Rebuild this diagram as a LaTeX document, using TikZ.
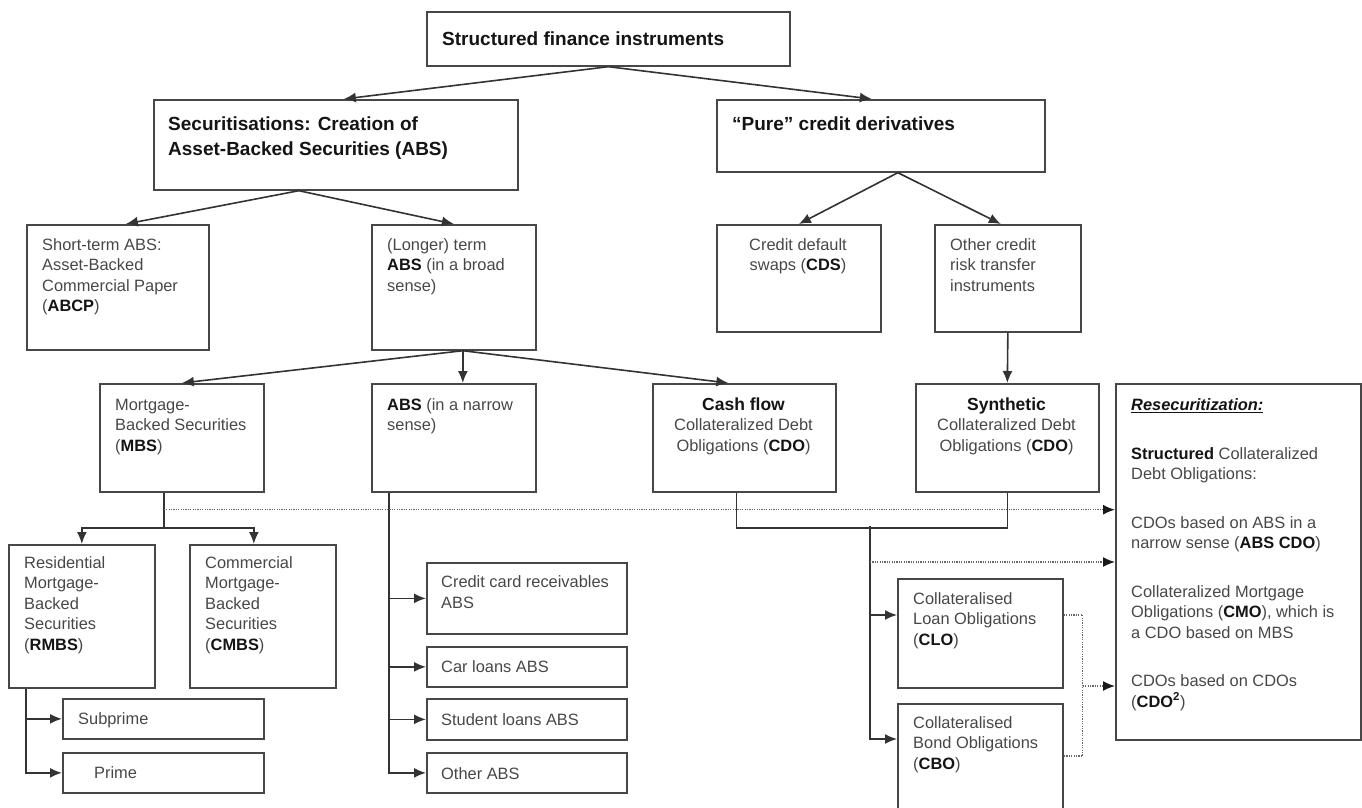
\documentclass[tikz,border=0pt]{standalone}
\usepackage{fontspec}
\setmainfont{Liberation Sans}
\usepackage{tikz}
\usetikzlibrary{arrows.meta, positioning, calc}

\newcommand{\bterm}[1]{{\bfseries\color{black!92}#1}}
\newcommand{\subhead}[1]{{\bfseries\fontsize{17.5}{20.5}\selectfont\color{black!92}#1}}

\begin{document}
\begin{tikzpicture}[x=1pt, y=-1pt,
    box/.style={draw=black!72, line width=1.7pt, anchor=north west, inner sep=0pt},
    dim/.style 2 args={minimum width=#1pt, minimum height=#2pt},
    txt/.style={anchor=base west, align=left, inner sep=0pt, text=black!72, font=\fontsize{16.4}{20.5}\selectfont},
    ctxt/.style={txt, anchor=base, align=center},
    head/.style={txt, text=black!92, font=\bfseries\fontsize{19}{25}\selectfont},
    arrow/.style={-{Latex[length=12pt, width=10pt]}, line width=1.6pt, draw=black!80},
    link/.style={line width=1.6pt, draw=black!80},
    dots/.style={dash pattern=on 1.2pt off 1.2pt, line width=1.5pt, draw=black!60},
    dotarrow/.style={dots, -{Latex[length=12pt, width=10pt, color=black!90]}}
]
    \useasboundingbox (0,0) rectangle (1362,808);

    % Level 1 and 2 (text nodes sit on the baseline of their last line)
    \node[box, dim={363}{54}] (sfi) at (426,11) {};
    \node[head] (sfi-t) at (442,46) {Structured finance instruments};

    \node[box, dim={364}{90}] (sec) at (153,99) {};
    \node[head] (sec-t) at (168,155) {Securitisations: Creation of\\Asset-Backed Securities (ABS)};

    \node[box, dim={328}{72}] (pure) at (716,99) {};
    \node[head] (pure-t) at (732,130) {“Pure” credit derivatives};

    % Level 3
    \node[box, dim={182}{125}] (abcp) at (26,224) {};
    \node[txt] (abcp-t) at (42,311.5) {Short-term ABS:\\Asset-Backed\\Commercial Paper\\(\bterm{ABCP})};

    \node[box, dim={164}{125}] (absbroad) at (371,224) {};
    \node[txt] (absbroad-t) at (387,291) {(Longer) term\\\bterm{ABS} (in a broad\\sense)};

    \node[box, dim={164}{107}] (cds) at (716,224) {};
    \node[ctxt] (cds-t) at (798,270.5) {Credit default\\swaps (\bterm{CDS})};

    \node[box, dim={146}{107}] (othercrt) at (934,224) {};
    \node[txt] (othercrt-t) at (950,291) {Other credit\\risk transfer\\instruments};

    % Level 4
    \node[box, dim={164}{108}] (mbs) at (99,383) {};
    \node[txt] (mbs-t) at (115,451) {Mortgage-\\Backed Securities\\(\bterm{MBS})};

    \node[box, dim={164}{108}] (absnarrow) at (371,383) {};
    \node[txt] (absnarrow-t) at (387,430.5) {\bterm{ABS} (in a narrow\\sense)};

    \node[box, dim={183}{108}] (cashcdo) at (652,383) {};
    \node[ctxt] (cashcdo-t) at (743.5,451) {\subhead{Cash flow}\\Collateralized Debt\\Obligations (\bterm{CDO})};

    \node[box, dim={183}{108}] (syncdo) at (915,383) {};
    \node[ctxt] (syncdo-t) at (1006.5,451) {\subhead{Synthetic}\\Collateralized Debt\\Obligations (\bterm{CDO})};

    \node[box, dim={245}{356}] (resec) at (1115,383) {};
    \node[txt] (resec-t) at (1131,707) {\bterm{\itshape\underline{Resecuritization:}}\\[28pt]
        \bterm{Structured} Collateralized\\Debt Obligations:\\[28pt]
        CDOs based on ABS in a\\narrow sense (\bterm{ABS CDO})\\[28pt]
        Collateralized Mortgage\\Obligations (\bterm{CMO}), which is\\a CDO based on MBS\\[28pt]
        CDOs based on CDOs\\(\bterm{CDO\textsuperscript{2}})};

    % Level 5
    \node[box, dim={146}{143}] (rmbs) at (8,544) {};
    \node[txt] (rmbs-t) at (24,650) {Residential\\Mortgage-\\Backed\\Securities\\(\bterm{RMBS})};

    \node[box, dim={146}{143}] (cmbs) at (189,544) {};
    \node[txt] (cmbs-t) at (205,650) {Commercial\\Mortgage-\\Backed\\Securities\\(\bterm{CMBS})};

    \node[box, dim={201}{40}] (subprime) at (62,698) {};
    \node[txt] (subprime-t) at (78,724) {Subprime};
    \node[box, dim={201}{40}] (prime) at (62,752) {};
    \node[txt] (prime-t) at (94,778) {Prime};

    \node[box, dim={200}{71}] (ccabs) at (426,562) {};
    \node[txt] (ccabs-t) at (441,608) {Credit card receivables\\ABS};
    \node[box, dim={200}{40}] (carabs) at (426,646) {};
    \node[txt] (carabs-t) at (441,672) {Car loans ABS};
    \node[box, dim={200}{41}] (studabs) at (426,698) {};
    \node[txt] (studabs-t) at (441,725) {Student loans ABS};
    \node[box, dim={200}{40}] (othabs) at (426,752) {};
    \node[txt] (othabs-t) at (441,779) {Other ABS};

    \node[box, dim={165}{109}] (clo) at (897,578) {};
    \node[txt] (clo-t) at (913,645) {Collateralised\\Loan Obligations\\(\bterm{CLO})};
    \node[box, dim={165}{112}] (cbo) at (897,703) {};
    \node[txt] (cbo-t) at (913,769) {Collateralised\\Bond Obligations\\(\bterm{CBO})};

    % Arrows
    \draw[arrow] (sfi.south) -- ([xshift=8]sec.north);
    \draw[arrow] (sfi.south) -- ([xshift=-9]pure.north);
    \draw[arrow] ([xshift=-37]sec.south) -- ([xshift=8]abcp.north);
    \draw[arrow] ([xshift=-37]sec.south) -- (absbroad.north);
    \draw[arrow] ([xshift=17]pure.south) -- (cds.north);
    \draw[arrow] ([xshift=17]pure.south) -- ([xshift=-7]othercrt.north);
    \draw[arrow] ([xshift=9]absbroad.south) -- (mbs.north);
    \draw[arrow] ([xshift=9]absbroad.south) -- ([xshift=9]absnarrow.north);
    \draw[arrow] ([xshift=9]absbroad.south) -- ([xshift=-16]cashcdo.north);
    \draw[arrow] (othercrt.south) -- (syncdo.north);

    % MBS branch
    \draw[link] ([xshift=-18]mbs.south) -- ++(0,35) coordinate (mbsfork);
    \draw[arrow] (mbsfork) -| (rmbs.north);
    \draw[arrow] (mbsfork) -| ([xshift=-9]cmbs.north);
    \draw[arrow] ([xshift=18]rmbs.south west) |- (subprime.west);
    \draw[arrow] ([xshift=18]rmbs.south west) |- (prime.west);

    % ABS branch
    \foreach \k in {ccabs, carabs, studabs, othabs}
        \draw[arrow] ([xshift=18]absnarrow.south west) |- (\k.west);

    % CDO branch
    \draw[link] ([xshift=-8]cashcdo.south) -- ++(0,35) -| (syncdo.south);
    \coordinate (cdofork) at (870,526);
    \draw[arrow] (cdofork) |- ([yshift=-37]clo.north west);
    \draw[arrow] (cdofork) |- ([yshift=-36]cbo.north west);

    % Resecuritization links
    \coordinate (dotmbs) at ([xshift=-18, yshift=-17]mbs.south);
    \draw[dotarrow] (dotmbs) -- (dotmbs -| resec.west);
    \draw[dotarrow] ([yshift=-36]cdofork) -- ([yshift=-36]cdofork -| resec.west);
    \draw[dots] ([yshift=-37]clo.north east) -- ++(19,0) coordinate (cloend)
        |- ([yshift=-53]cbo.north east);
    \coordinate (cdo2) at (cloend |- 0,686);
    \draw[dotarrow] (cdo2) -- (cdo2 -| resec.west);

\end{tikzpicture}
\end{document}
